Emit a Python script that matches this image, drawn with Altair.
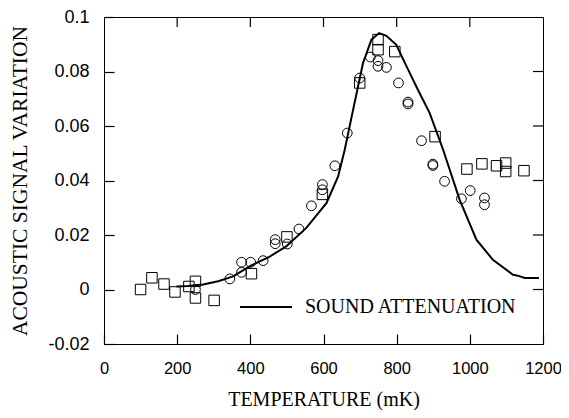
import altair as alt
import pandas as pd

# Sound attenuation curve
line_t = [198, 230, 271, 312, 353, 398, 453, 498, 553, 608, 640, 658, 681, 708, 731,
          752, 772, 799, 827, 858, 890, 927, 972, 1018, 1063, 1118, 1133, 1150, 1189]
line_v = [0.0011, 0.0013, 0.0018, 0.0030, 0.0048, 0.0085, 0.0121, 0.0158, 0.0226, 0.0317,
          0.0415, 0.0513, 0.0660, 0.0831, 0.0917, 0.0941, 0.0931, 0.0898, 0.0819, 0.0733,
          0.0648, 0.0513, 0.0330, 0.0183, 0.0109, 0.0054, 0.0050, 0.0042, 0.0042]

# Circles
circ_t = [250, 344, 376, 376, 401, 435, 468, 468, 501, 533, 567, 597, 597, 631, 665, 699,
          728, 749, 749, 772, 805, 831, 831, 868, 899, 899, 931, 977, 1001, 1040, 1040]
circ_v = [0.0000, 0.0039, 0.0100, 0.0063, 0.0100, 0.0106, 0.0183, 0.0168, 0.0167, 0.0222,
          0.0307, 0.0385, 0.0366, 0.0454, 0.0574, 0.0776, 0.0853, 0.0840, 0.0819, 0.0815,
          0.0758, 0.0688, 0.0681, 0.0546, 0.0460, 0.0455, 0.0397, 0.0333, 0.0363, 0.0336,
          0.0311]

# Squares
sq_t = [100, 131, 164, 194, 232, 250, 250, 301, 403, 500, 597, 699, 749, 749, 795, 905,
        992, 1033, 1073, 1098, 1098, 1148]
sq_v = [0.0000, 0.0043, 0.0020, -0.0009, 0.0011, 0.0030, -0.0031, -0.0040, 0.0058, 0.0193,
        0.0349, 0.0758, 0.0917, 0.0880, 0.0873, 0.0561, 0.0442, 0.0461, 0.0454, 0.0464,
        0.0433, 0.0436]

x_ticks = [0, 200, 400, 600, 800, 1000, 1200]
y_ticks = [-0.02, 0, 0.02, 0.04, 0.06, 0.08, 0.1]
legend_label = ["SOUND ATTENUATION"]
x_title = "TEMPERATURE  (mK)"
y_title = "ACOUSTIC SIGNAL VARIATION"

line_df = pd.DataFrame({"t": line_t, "v": line_v})
circ_df = pd.DataFrame({"t": circ_t, "v": circ_v})
sq_df = pd.DataFrame({"t": sq_t, "v": sq_v})
leg_df = pd.DataFrame({"label": legend_label})
xt_df = pd.DataFrame({"t": x_ticks[1:-1]})
yt_df = pd.DataFrame({"v": y_ticks[1:-1]})

xs = alt.Scale(domain=[0, 1200], nice=False, zero=False)
ys = alt.Scale(domain=[-0.02, 0.1], nice=False, zero=False)

W, H = 439, 327
TL = 10  # inward tick length

# main axes are pulled TL px into the plot so that their ticks point inward
ax_x_main = alt.Axis(orient="bottom", values=x_ticks, ticks=True, tickSize=TL,
                     tickColor="black", tickWidth=1.2, offset=-TL, domain=False, grid=False,
                     labelFont="Liberation Sans", labelFontSize=16.5, labelColor="black",
                     labelPadding=16, labelFlush=False, labelOverlap=False,
                     labelExpr="datum.value + ''",
                     title=x_title, titleFont="Liberation Serif", titleFontSize=20,
                     titleFontWeight="normal", titleColor="black",
                     titleX=W / 2, titleY=55 + TL, titleBaseline="middle", titleAlign="center")
ax_y_main = alt.Axis(orient="left", values=y_ticks, ticks=True, tickSize=TL,
                     tickColor="black", tickWidth=1.2, offset=-TL, domain=False, grid=False,
                     labelFont="Liberation Sans", labelFontSize=18, labelColor="black",
                     labelPadding=15, labelFlush=False, labelOverlap=False,
                     labelExpr="datum.value + ''",
                     title=y_title, titleFont="Liberation Serif", titleFontSize=21.5,
                     titleFontWeight="normal", titleColor="black",
                     titleX=-84 - TL, titleY=H / 2, titleAngle=270, titleBaseline="middle",
                     titleAlign="center")

line = alt.Chart(line_df).mark_line(color="black", strokeWidth=2).encode(
    x=alt.X("t:Q", scale=xs, axis=ax_x_main),
    y=alt.Y("v:Q", scale=ys, axis=ax_y_main),
)

circles = alt.Chart(circ_df).mark_point(shape="circle", filled=False, size=95,
                                        color="black", strokeWidth=1, opacity=1).encode(
    x=alt.X("t:Q", scale=xs), y=alt.Y("v:Q", scale=ys))

squares = alt.Chart(sq_df).mark_point(shape="square", filled=False, size=110,
                                      color="black", strokeWidth=1, opacity=1).encode(
    x=alt.X("t:Q", scale=xs), y=alt.Y("v:Q", scale=ys))

# inward ticks on the top and right edges
xt_top = alt.Chart(xt_df).mark_rule(color="black", strokeWidth=1.2).encode(
    x=alt.X("t:Q", scale=xs), y=alt.value(0), y2=alt.value(TL))
yt_right = alt.Chart(yt_df).mark_rule(color="black", strokeWidth=1.2).encode(
    y=alt.Y("v:Q", scale=ys), x=alt.value(W - TL), x2=alt.value(W))

leg_line = alt.Chart(leg_df).mark_rule(color="black", strokeWidth=2).encode(
    x=alt.value(136), x2=alt.value(188), y=alt.value(290))
leg_text = alt.Chart(leg_df).mark_text(align="left", baseline="middle",
                                       font="Liberation Serif", fontSize=20,
                                       color="black").encode(
    x=alt.value(201), y=alt.value(290), text="label:N")

chart = alt.layer(line, circles, squares, xt_top, yt_right,
                  leg_line, leg_text).properties(
    width=W, height=H, autosize="none",
    padding={"left": 96, "top": 9, "right": 18, "bottom": 66},
).configure_view(stroke="black", strokeWidth=1)

chart.save("out.html", embed_options={"renderer": "svg", "actions": False})
